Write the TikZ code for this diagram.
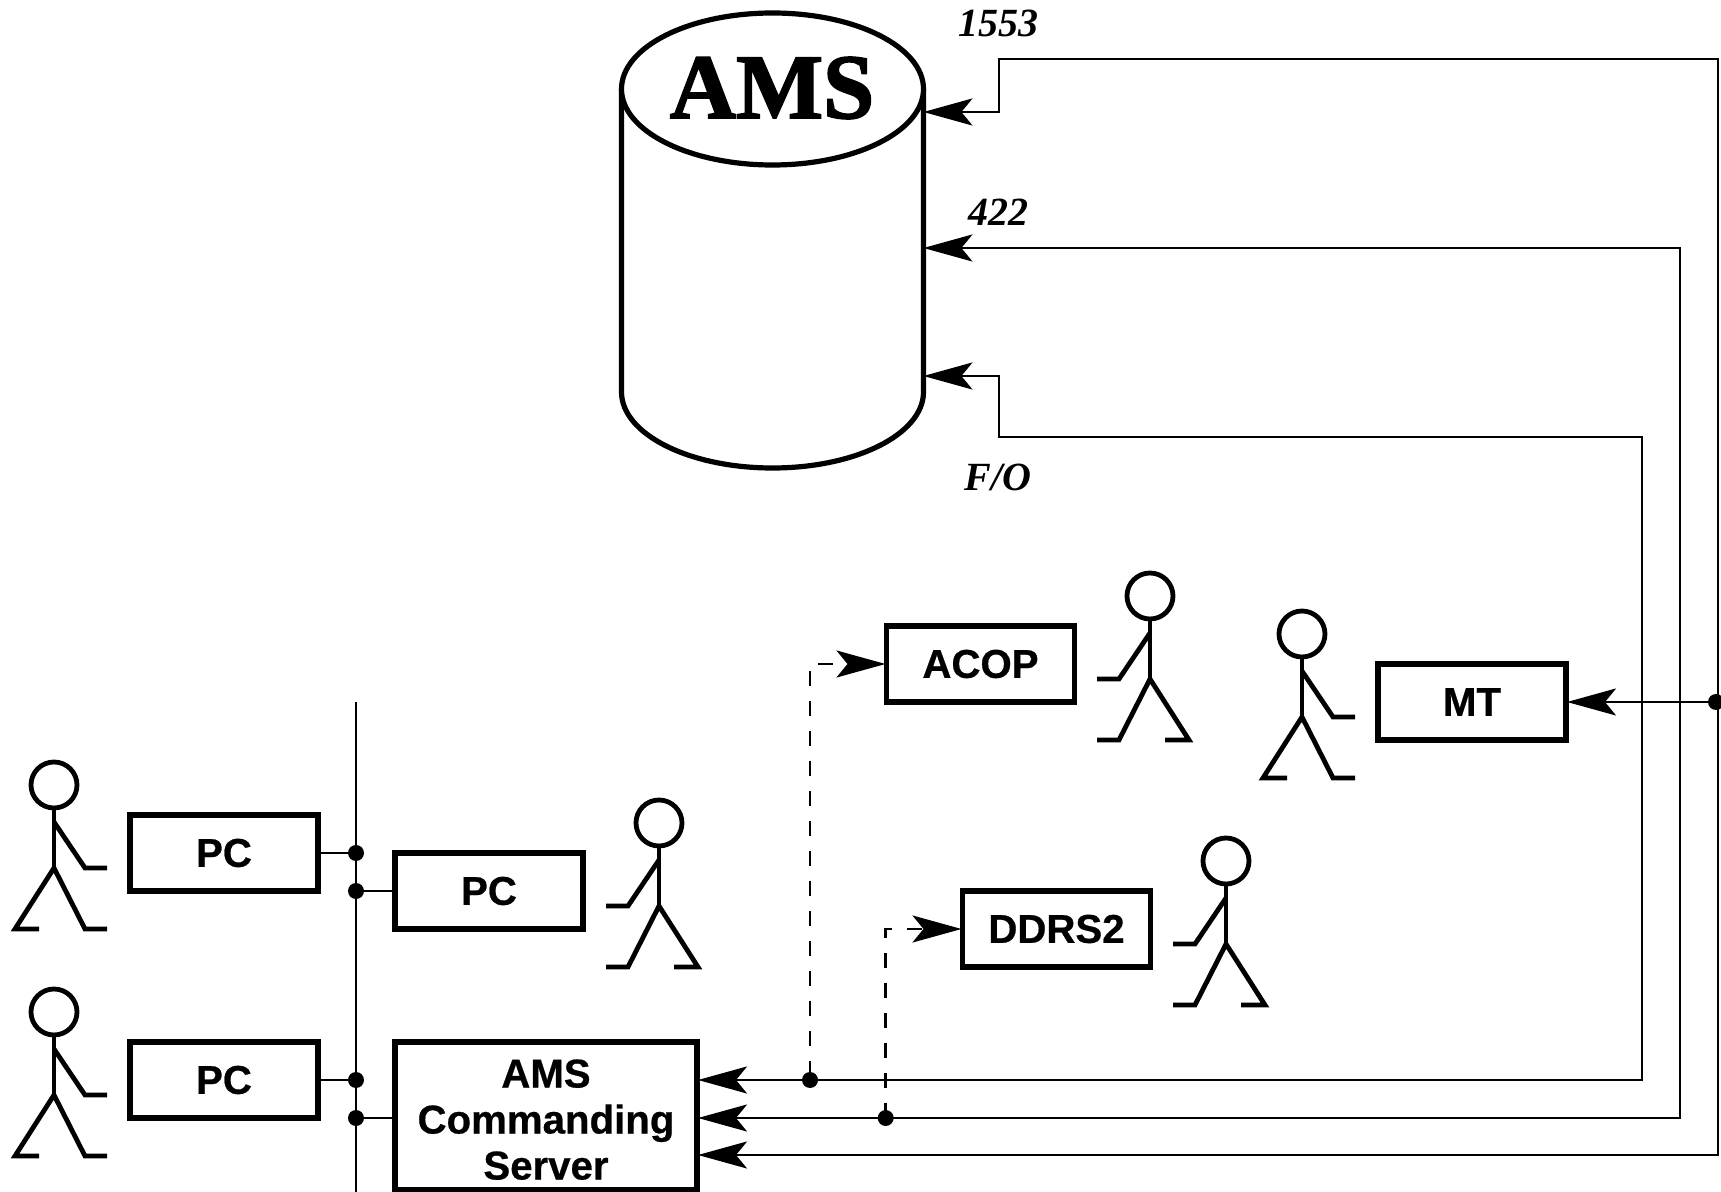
\documentclass[tikz,border=0pt]{standalone}
\usepackage{fontspec}
\setmainfont{Liberation Sans}
\newfontfamily\lserif{Liberation Serif}
\newfontfamily\boxfont[BoldFeatures={FakeBold=0.6}]{Liberation Sans}
\newfontfamily\amsfont[BoldFeatures={FakeBold=2}]{Liberation Serif}
\usetikzlibrary{arrows.meta,shapes.geometric,calc}
\newcommand{\dnb}[1]{\raisebox{-0.5pt}{#1}}
\tikzset{
  bx/.style={draw,line width=2.6pt,rectangle,inner sep=0pt,minimum width=94pt,minimum height=38pt,
    font=\fontsize{20.1}{23}\selectfont\boxfont\bfseries,align=center},
  lnk/.style={line width=1.3pt},
  arr/.style={line width=1.3pt,shorten >=-0.8pt,-{Stealth[length=24.5pt,width=13.5pt,inset=5.5pt]}},
  arrb/.style={line width=1.3pt,shorten >=-0.8pt,shorten <=-0.8pt,{Stealth[length=24.5pt,width=13.5pt,inset=5.5pt]}-{Stealth[length=24.5pt,width=13.5pt,inset=5.5pt]}},
  junction/.style={circle,fill=black,inner sep=0pt,minimum size=8pt},
  lab/.style={font=\fontsize{20}{22}\selectfont\lserif\bfseries\itshape,inner sep=0pt},
  actor/.pic={
    \draw[line width=2.4pt,miter limit=10] (0,0) circle [radius=11.5pt];
    \draw[line width=2.4pt,miter limit=10] (0,23) -- (0,83);
    \draw[line width=2.4pt,miter limit=10] (0,37) -- (31,83) -- (53,83);
    \draw[line width=2.4pt,miter limit=10] (-15,144) -- (-39,144) -- (0,83) -- (31,144) -- (53,144);
  }
}
\begin{document}
\begin{tikzpicture}[x=0.5pt,y=-0.5pt]
\useasboundingbox (0,0) rectangle (1721,1192);
% cylinder
\draw[line width=2.6pt] (621.5,89) -- (621.5,392) .. controls (621.5,434) and (689,468) .. (772.5,468)
   .. controls (856,468) and (923.5,434) .. (923.5,392) -- (923.5,89);
\node[ellipse,draw,line width=2.6pt,inner sep=0pt,minimum width=151pt,minimum height=76pt,fill=white] (ams) at (772.5,89) {};
\node[font=\fontsize{46}{50}\selectfont\amsfont\bfseries,inner sep=0pt] (amstext) at (772,88) {AMS};
\coordinate (c1553) at (925,112);
\coordinate (c422) at (925,248);
\coordinate (cfo) at (925,376);
\node[lab] (l1553) at (998,23) {1553};
\node[lab] (l422) at (998,212) {422};
\node[lab] (lfo) at (998,477) {F/O};
% boxes
\node[bx] (pca) at (224,853) {\dnb{PC}};
\node[bx] (pcb) at (489,891) {\dnb{PC}};
\node[bx] (pcc) at (224,1080) {\dnb{PC}};
\node[bx] (acop) at (980.5,664) {\dnb{ACOP}};
\node[bx] (mt) at (1472,702) {\dnb{MT}};
\node[bx] (ddrs) at (1056.5,929) {\dnb{DDRS2}};
\node[bx,minimum width=151pt,minimum height=74pt] (server) at (546,1116) {\rule{0pt}{17.7pt}AMS\\Commanding\\Server};
% bus
\coordinate (bustop) at (356,702);
\coordinate (busbot) at (356,1192);
\draw[lnk] (bustop) -- (busbot);
\node[junction] (da) at (356,853) {};
\node[junction] (db) at (356,891) {};
\node[junction] (dc) at (356,1080) {};
\node[junction] (dd) at (356,1118) {};
\draw[lnk] (pca.east) -- (da);
\draw[lnk] (pcb.west) -- (db);
\draw[lnk] (pcc.east) -- (dc);
\draw[lnk] (server.west |- dd) -- (dd);
% feeds
\node[junction] (dacop) at (810,1080) {};
\node[junction] (dddrs) at (885.7,1118) {};
\node[junction] (dmt) at (1716,702) {};
\coordinate (sa) at (server.east |- dacop);
\coordinate (sb) at (server.east |- dddrs);
\coordinate (sc) at (server.east |- 1000,1155);
\draw[arrb] (c1553) -- (999,112) -- (999,59) -- (1718,59) -- (1718,1155) -- (sc);
\draw[arrb] (c422) -- (1680,248) -- (1680,1118) -- (sb);
\draw[arrb] (cfo) -- (999,376) -- (999,437) -- (1642,437) -- (1642,1080) -- (sa);
\draw[arr] (dmt) -- (mt.east);
\draw[arr,dash pattern=on 7.5pt off 7.5pt,dash phase=17.3pt] (dacop) |- (acop.west);
\draw[arr,dash pattern=on 7.5pt off 7.5pt,dash phase=4pt] (dddrs) |- (ddrs.west);
% actors
\pic at (54,785) {actor};
\pic at (54,1012) {actor};
\pic at (1302,634) {actor};
\pic[xscale=-1] at (659,823) {actor};
\pic[xscale=-1] at (1150,596) {actor};
\pic[xscale=-1] at (1226,861) {actor};
\end{tikzpicture}
\end{document}
